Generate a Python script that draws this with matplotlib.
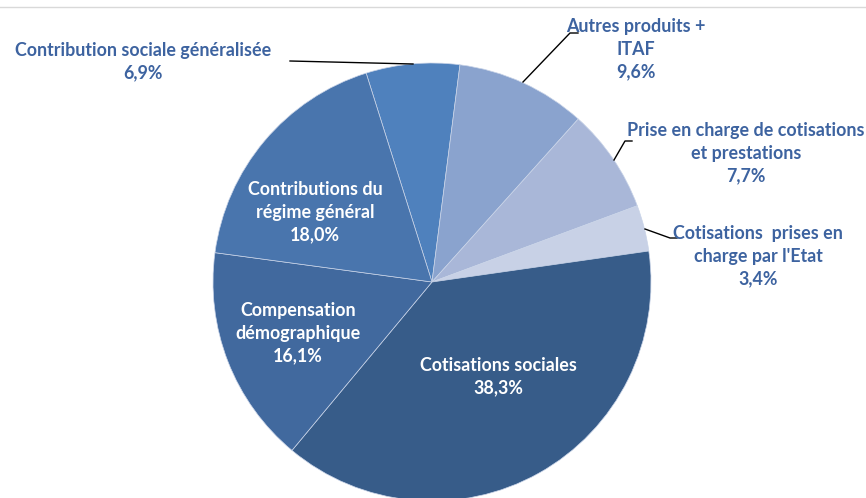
import matplotlib
matplotlib.use("Agg")
import matplotlib.pyplot as plt

# clockwise from the top
labels = ["Contribution sociale généralisée", "Autres produits +\nITAF",
          "Prise en charge de cotisations\net prestations",
          "Cotisations  prises en\ncharge par l'Etat", "Cotisations sociales",
          "Compensation\ndémographique", "Contributions du\nrégime général"]
values = [6.9, 9.6, 7.7, 3.4, 38.3, 16.1, 18.0]
colors = ["#4F81BD", "#8AA3CE", "#A9B7D8", "#C8D1E6", "#375C89", "#41699E", "#4975AD"]

plt.rcParams['font.family'] = ['Lato', 'DejaVu Sans']

fig = plt.figure(figsize=(8.66, 4.98), dpi=100)
ax = fig.add_axes([0, 0, 1, 1])
H = 498

wedges, _ = ax.pie(values, colors=colors, startangle=107.5, counterclock=False,
                   center=(432, H - 282), radius=219,
                   wedgeprops=dict(edgecolor="#c9d4e8", linewidth=0.5))
ax.set_xlim(0, 866)
ax.set_ylim(0, H)
ax.set_aspect("equal")
ax.axis("off")

# thin frame line at top
ax.plot([0, 866], [H - 7, H - 7], color="#d9d9d9", lw=1)

txt = "#3D63A0"
fs = 12.9
ls = 1.38
pct = ["%.1f%%" % v for v in values]
pct = [p.replace(".", ",") for p in pct]

# outside labels (x, y in image pixels)
outside = {0: (143, 62), 1: (636, 49), 2: (746, 153), 3: (758, 256)}
for i, (x, y) in outside.items():
    ax.text(x, H - y, labels[i] + "\n" + pct[i], ha="center", va="center",
            color=txt, fontsize=fs, fontweight="bold", linespacing=ls)

# leader lines
leaders = [
    [(290, 61), (413, 64)],
    [(523, 82), (570, 33), (578, 33)],
    [(614, 160), (625, 141), (632, 141)],
    [(645, 229), (670, 238), (677, 238)],
]
for pts in leaders:
    ax.plot([p[0] for p in pts], [H - p[1] for p in pts], color="black", lw=1)

# inside labels
inside = {6: (315, 212), 5: (298, 333), 4: (498, 377)}
for i, (x, y) in inside.items():
    ax.text(x, H - y, labels[i] + "\n" + pct[i], ha="center", va="center",
            color="white", fontsize=fs, fontweight="bold", linespacing=ls)

fig.savefig("out.png", dpi=100)
